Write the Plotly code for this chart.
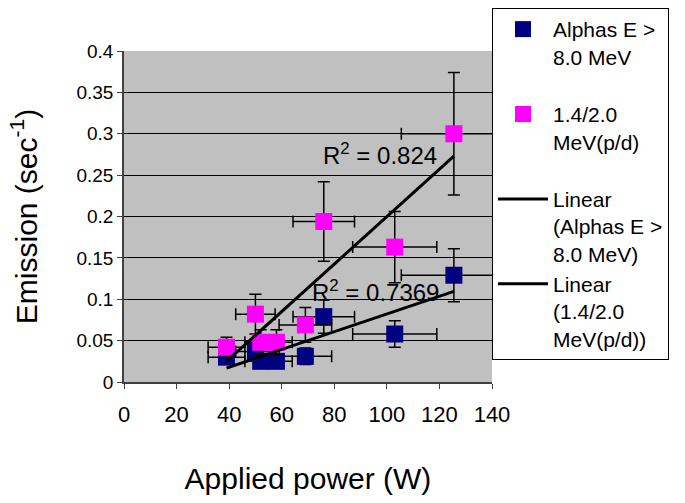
import numpy as np
import plotly.graph_objects as go

# ---- data ----
power = [39, 50, 52, 58, 69, 76, 103, 125.5]
power_err = [7, 7.5, 6, 6, 10, 11.7, 16, 20]

alpha_emission = [0.030, 0.037, 0.025, 0.025, 0.031, 0.079, 0.058, 0.129]
alpha_err = [0.008, 0.010, 0.007, 0.007, 0.010, 0.020, 0.016, 0.032]

pd_emission = [0.042, 0.082, 0.048, 0.048, 0.069, 0.194, 0.163, 0.300]
pd_err = [0.012, 0.024, 0.015, 0.015, 0.021, 0.048, 0.043, 0.074]

alpha_name = "Alphas E ><br>8.0 MeV<br>&nbsp;"
pd_name = "1.4/2.0<br>MeV(p/d)<br>&nbsp;"
alpha_fit_name = "Linear<br>(Alphas E ><br>8.0 MeV)"
pd_fit_name = "Linear<br>(1.4/2.0<br>MeV(p/d))"

r2_labels = ["R<sup>2</sup> = 0.824", "R<sup>2</sup> = 0.7369"]
r2_pos_x = [97.5, 95.5]
r2_pos_y = [0.275, 0.110]

x_ticks = [0, 20, 40, 60, 80, 100, 120, 140]
y_ticks = [0, 0.05, 0.1, 0.15, 0.2, 0.25, 0.3, 0.35, 0.4]
y_tick_text = ["0", "0.05", "0.1", "0.15", "0.2", "0.25", "0.3", "0.35", "0.4"]


def linfit(x, y):
    x = np.asarray(x, float)
    y = np.asarray(y, float)
    m, b = np.polyfit(x, y, 1)
    xs = np.array([x.min(), x.max()])
    return xs, m * xs + b


fig = go.Figure()

err_style = dict(color="black", thickness=1.5, width=6)

fig.add_trace(go.Scatter(
    x=power, y=alpha_emission, mode="markers", name=alpha_name,
    legendgroup="a",
    marker=dict(symbol="square", size=17, color="#000080"),
    error_y=dict(type="data", array=alpha_err, **err_style),
    error_x=dict(type="data", array=power_err, **err_style),
))
fig.add_trace(go.Scatter(
    x=power, y=pd_emission, mode="markers", name=pd_name,
    legendgroup="b",
    marker=dict(symbol="square", size=17, color="#FF00FF"),
    error_y=dict(type="data", array=pd_err, **err_style),
    error_x=dict(type="data", array=power_err, **err_style),
))

fx, fy = linfit(power, alpha_emission)
fig.add_trace(go.Scatter(x=fx, y=fy, mode="lines", name=alpha_fit_name,
                         legendgroup="c", line=dict(color="black", width=3)))
fx, fy = linfit(power, pd_emission)
fig.add_trace(go.Scatter(x=fx, y=fy, mode="lines", name=pd_fit_name,
                         legendgroup="d", line=dict(color="black", width=3)))

for t, ax_, ay_ in zip(r2_labels, r2_pos_x, r2_pos_y):
    fig.add_annotation(x=ax_, y=ay_, text=t, showarrow=False,
                       font=dict(size=24, color="black"))

font_family = "Liberation Sans, Arial, sans-serif"

fig.update_layout(
    width=685, height=503,
    margin=dict(l=124, r=193, t=51, b=121, autoexpand=False),
    paper_bgcolor="white",
    plot_bgcolor="#C0C0C0",
    font=dict(family=font_family, color="black"),
    showlegend=True,
    legend=dict(
        x=1.0, xanchor="left", y=1.13, yanchor="top",
        bgcolor="white", bordercolor="black", borderwidth=1,
        font=dict(size=21, color="black"),
        tracegroupgap=0, valign="top", itemwidth=50,
        maxheight=600,
    ),
    xaxis=dict(
        range=[0, 140], tickvals=x_ticks, ticktext=[str(v) for v in x_ticks],
        showgrid=False, zeroline=False,
        showline=True, linecolor="#404040", linewidth=1.5,
        ticks="outside", ticklen=5, tickcolor="#404040",
        ticklabelstandoff=7,
        tickfont=dict(size=22, color="black"),
        title=dict(text="Applied power (W)", font=dict(size=30, color="black"),
                   standoff=42),
    ),
    yaxis=dict(
        range=[0, 0.4], tickvals=y_ticks, ticktext=y_tick_text,
        showgrid=True, gridcolor="black", gridwidth=1, zeroline=False,
        showline=True, linecolor="#404040", linewidth=1.5,
        ticks="outside", ticklen=5, tickcolor="#404040",
        tickfont=dict(size=19, color="black"),
        title=dict(text="Emission (sec<sup>-1</sup>)", font=dict(size=30, color="black"),
                   standoff=30),
    ),
)

fig.write_html("out.html")
